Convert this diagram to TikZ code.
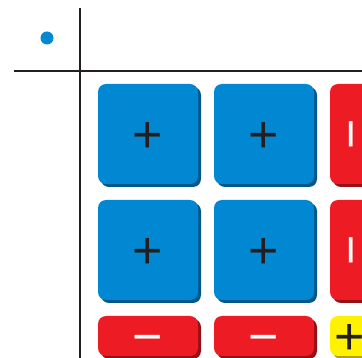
\documentclass[tikz,border=0pt]{standalone}
\usepackage{fontspec}
\usepackage{graphicx}
\setmainfont{Liberation Sans}
\usetikzlibrary{shadows}
\definecolor{tblue}{RGB}{2,136,210}
\definecolor{tblueS}{RGB}{0,88,138}
\definecolor{tred}{RGB}{237,28,36}
\definecolor{tredS}{RGB}{150,16,22}
\definecolor{tyel}{RGB}{255,242,0}
\definecolor{tyelS}{RGB}{176,166,0}
\definecolor{ink}{RGB}{35,31,32}
\newcommand{\ctrglyph}[1]{\smash{\makebox[0pt][c]{\raisebox{-0.352em}{#1}}}}
\newcommand{\pluslbl}{\ctrglyph{+}}
\newcommand{\minuslbl}{\ctrglyph{−}}
\newcommand{\vminuslbl}{\smash{\makebox[0pt][c]{\rotatebox{90}{\ctrglyph{−}}}}}
\begin{document}
\begin{tikzpicture}[x=1pt,y=-1pt,
  tilebase/.style={rectangle, rounded corners=8pt, inner sep=0pt,
     font=\fontsize{52}{52}\selectfont},
  bluetile/.style={tilebase, fill=tblue, text=ink, minimum width=100pt, minimum height=100pt,
     drop shadow={shadow xshift=3pt, shadow yshift=-3pt, fill=tblueS, opacity=1}},
  redv/.style={tilebase, fill=tred, text=white, minimum width=40pt, minimum height=100pt,
     drop shadow={shadow xshift=3pt, shadow yshift=-3pt, fill=tredS, opacity=1}},
  redh/.style={tilebase, fill=tred, text=white, minimum width=100pt, minimum height=40pt,
     drop shadow={shadow xshift=3pt, shadow yshift=-3pt, fill=tredS, opacity=1}},
  yeltile/.style={tilebase, fill=tyel, text=ink, minimum width=40pt, minimum height=40pt,
     drop shadow={shadow xshift=3pt, shadow yshift=-3pt, fill=tyelS, opacity=1}},
  axis/.style={draw=ink, line width=2pt}
]
\useasboundingbox (0,0) rectangle (362,358);
\clip (0,0) rectangle (362,358);
\fill[white] (0,0) rectangle (362,358);
% axes
\coordinate (vt) at (80,8);
\coordinate (vb) at (80,360);
\coordinate (hl) at (14,71);
\coordinate (hr) at (364,71);
\draw[axis] (vt) -- (vb);
\draw[axis] (hl) -- (hr);
\node[circle, fill=tblue, minimum size=13pt, inner sep=0pt] (dot) at (47,38) {};
% tiles
\node[bluetile] (b11) at (148,134) {\pluslbl};
\node[bluetile] (b12) at (264,134) {\pluslbl};
\node[bluetile] (b21) at (148,250) {\pluslbl};
\node[bluetile] (b22) at (264,250) {\pluslbl};
\node[redv] (r1) at (350,134) {\vminuslbl};
\node[redv] (r2) at (350,250) {\vminuslbl};
\node[redh] (h1) at (148,336) {\minuslbl};
\node[redh] (h2) at (264,336) {\minuslbl};
\node[yeltile] (y1) at (350,336) {\pluslbl};
\end{tikzpicture}
\end{document}
